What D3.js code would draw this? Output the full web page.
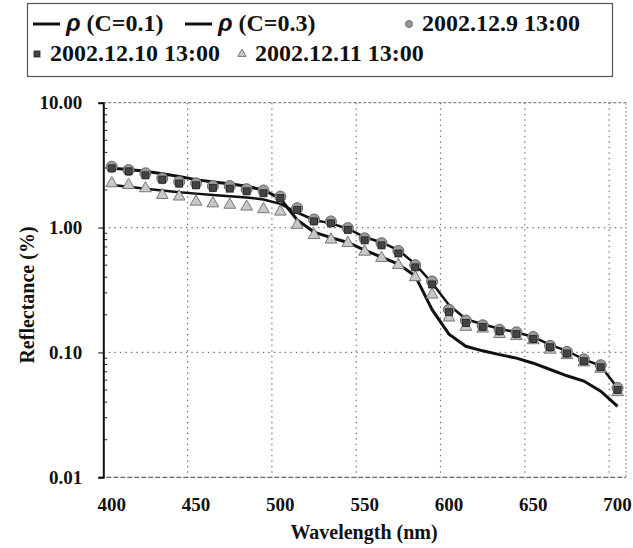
<!DOCTYPE html>
<html>
<head>
<meta charset="utf-8">
<script src="https://cdn.jsdelivr.net/npm/d3@7"></script>
</head>
<body style="margin:0">
<script>
// wavelength categories (nm)
const wavelengths = [400, 410, 420, 430, 440, 450, 460, 470, 480, 490, 500, 510, 520, 530, 540, 550,
                     560, 570, 580, 590, 600, 610, 620, 630, 640, 650, 660, 670, 680, 690, 700];
const xTickLabels = [400, 450, 500, 550, 600, 650, 700];
const yTickValues = [10, 1, 0.1, 0.01];

// model curves
const rhoC01 = [2.98, 2.92, 2.82, 2.70, 2.56, 2.42, 2.32, 2.24, 2.14, 2.00, 1.70, 1.15, 0.92, 0.83, 0.76, 0.66,
                0.58, 0.51, 0.41, 0.22, 0.140, 0.112, 0.103, 0.096, 0.090, 0.082, 0.073, 0.065, 0.059, 0.049, 0.037];
const rhoC03 = [2.19, 2.12, 2.05, 1.98, 1.92, 1.87, 1.82, 1.78, 1.74, 1.68, 1.55, 1.32, 1.15, 1.08, 0.98, 0.84,
                0.76, 0.66, 0.51, 0.36, 0.240, 0.185, 0.168, 0.155, 0.145, 0.133, 0.115, 0.103, 0.088, 0.078, 0.052];

// measurements
const obsDec9 = [3.07, 2.89, 2.72, 2.48, 2.33, 2.26, 2.15, 2.15, 2.03, 1.98, 1.77, 1.43, 1.16, 1.12, 0.99, 0.82,
                 0.75, 0.65, 0.50, 0.37, 0.220, 0.180, 0.165, 0.152, 0.145, 0.133, 0.113, 0.101, 0.088, 0.079, 0.052];
const obsDec10 = [2.98, 2.82, 2.62, 2.42, 2.25, 2.18, 2.08, 2.05, 1.95, 1.88, 1.72, 1.38, 1.12, 1.08, 0.96, 0.79,
                  0.72, 0.62, 0.48, 0.35, 0.210, 0.172, 0.160, 0.148, 0.140, 0.128, 0.110, 0.098, 0.085, 0.076, 0.050];
const obsDec11 = [2.26, 2.19, 2.06, 1.82, 1.77, 1.61, 1.56, 1.52, 1.47, 1.40, 1.34, 1.05, 0.87, 0.80, 0.75, 0.64,
                  0.57, 0.50, 0.40, 0.29, 0.190, 0.160, 0.155, 0.140, 0.135, 0.125, 0.105, 0.095, 0.083, 0.074, 0.048];

const width = 633, height = 548;
const plot = { left: 103.3, right: 626, top: 102.7, bottom: 477.3 };

const svg = d3.select("body").append("svg")
    .attr("width", width)
    .attr("height", height)
    .style("display", "block");

// all labels share the same bold serif look
function styleText(sel, size) {
    return sel.style("font-family", "\"Liberation Serif\"")
        .style("font-weight", "bold")
        .style("font-size", size + "px")
        .attr("fill", "#111");
}

const x = d3.scaleBand()
    .domain(wavelengths)
    .range([plot.left, plot.right]);
const cx = d => x(d) + x.bandwidth() / 2;

const y = d3.scaleLog()
    .domain([0.01, 10])
    .range([plot.bottom, plot.top]);

// Grid lines
const grid = svg.append("g")
    .attr("stroke", "#777")
    .attr("stroke-width", 1.2)
    .attr("stroke-dasharray", "1.5,4");

grid.selectAll(".vg")
    .data(xTickLabels.slice(1))
    .join("line")
    .attr("x1", d => x(d)).attr("x2", d => x(d))
    .attr("y1", plot.top).attr("y2", plot.bottom);

grid.selectAll(".hg")
    .data([1, 0.1])
    .join("line")
    .attr("x1", plot.left).attr("x2", plot.right)
    .attr("y1", d => y(d)).attr("y2", d => y(d));

// frame: top, right and bottom are faint, left axis is solid
svg.append("line")
    .attr("x1", plot.left).attr("x2", plot.right)
    .attr("y1", plot.top).attr("y2", plot.top)
    .attr("stroke", "#888").attr("stroke-width", 1.2)
    .attr("stroke-dasharray", "3,2");
svg.append("line")
    .attr("x1", plot.right).attr("x2", plot.right)
    .attr("y1", plot.top).attr("y2", plot.bottom)
    .attr("stroke", "#999").attr("stroke-width", 1.2)
    .attr("stroke-dasharray", "2,2");
svg.append("line")
    .attr("x1", plot.left - 4).attr("x2", plot.right)
    .attr("y1", plot.bottom).attr("y2", plot.bottom)
    .attr("stroke", "#666").attr("stroke-width", 1.3)
    .attr("stroke-dasharray", "5,2");

// Y axis with log minor ticks
const yAxis = svg.append("g")
    .attr("transform", `translate(${plot.left},0)`)
    .call(d3.axisLeft(y).tickValues(yTickValues).tickSize(5).tickFormat(d3.format(".2f")))
    .call(g => g.select(".domain").attr("stroke", "#111").attr("stroke-width", 2));
styleText(yAxis.selectAll("text").attr("x", -21), 19);

const minorTicks = y.ticks().filter(d => !yTickValues.includes(d));
svg.append("g")
    .selectAll("line")
    .data(minorTicks)
    .join("line")
    .attr("x1", plot.left).attr("x2", plot.left + 4)
    .attr("y1", d => y(d)).attr("y2", d => y(d))
    .attr("stroke", "#222").attr("stroke-width", 1);

// X labels sit in the middle of their category
styleText(svg.append("g")
    .selectAll("text")
    .data(xTickLabels)
    .join("text")
    .attr("x", d => cx(d))
    .attr("y", 511)
    .attr("text-anchor", "middle")
    .text(d => d), 19);

// Axis labels
styleText(svg.append("text")
    .attr("x", 364)
    .attr("y", 539)
    .attr("text-anchor", "middle")
    .text("Wavelength (nm)"), 20);

styleText(svg.append("text")
    .attr("transform", "rotate(-90)")
    .attr("x", -295)
    .attr("y", 34)
    .attr("text-anchor", "middle")
    .text("Reflectance (%)"), 20);

// Model lines
const line = d3.line()
    .x((d, i) => cx(wavelengths[i]))
    .y(d => y(d));

svg.append("path")
    .datum(rhoC03)
    .attr("fill", "none")
    .attr("stroke", "#111")
    .attr("stroke-width", 2.5)
    .attr("d", line);

svg.append("path")
    .datum(rhoC01)
    .attr("fill", "none")
    .attr("stroke", "#111")
    .attr("stroke-width", 3)
    .attr("d", line);

// Markers
const tri = d3.symbol().type(d3.symbolTriangle).size(60);

function drawTriangles(g, values) {
    g.selectAll("path")
        .data(values)
        .join("path")
        .attr("transform", (d, i) => `translate(${cx(wavelengths[i])},${y(d)})`)
        .attr("d", tri)
        .attr("fill", "#c8c8c8")
        .attr("stroke", "#777")
        .attr("stroke-width", 1);
}
function drawSpheres(g, values) {
    g.selectAll("circle")
        .data(values)
        .join("circle")
        .attr("cx", (d, i) => cx(wavelengths[i]))
        .attr("cy", d => y(d))
        .attr("r", 5.5)
        .attr("fill", "#9a9a9a")
        .attr("stroke", "#666")
        .attr("stroke-width", 1);
}
function drawSquares(g, values) {
    g.selectAll("rect")
        .data(values)
        .join("rect")
        .attr("x", (d, i) => cx(wavelengths[i]) - 3.5)
        .attr("y", d => y(d) - 3.5)
        .attr("width", 7)
        .attr("height", 7)
        .attr("fill", "#444")
        .attr("stroke", "#222")
        .attr("stroke-width", 0.8);
}

drawTriangles(svg.append("g"), obsDec11);
drawSpheres(svg.append("g"), obsDec9);
drawSquares(svg.append("g"), obsDec10);

// Legend
const legend = svg.append("g");
legend.append("rect")
    .attr("x", 27.5).attr("y", 3.5)
    .attr("width", 585).attr("height", 73)
    .attr("fill", "#fff")
    .attr("stroke", "#555")
    .attr("stroke-width", 1.2);

function legendText(xPos, yPos, parts) {
    const t = styleText(legend.append("text")
        .attr("x", xPos).attr("y", yPos), 24);
    parts.forEach(p => {
        const s = t.append("tspan").text(p.text);
        if (p.greek) {
            s.style("font-family", "\"Liberation Sans\"").style("font-style", "italic");
        }
    });
}

const legendRow1 = 31, legendRow2 = 61;

legend.append("line")
    .attr("x1", 33).attr("x2", 60)
    .attr("y1", legendRow1 - 7).attr("y2", legendRow1 - 7)
    .attr("stroke", "#111").attr("stroke-width", 3);
legendText(66, legendRow1, [{ text: "ρ", greek: true }, { text: " (C=0.1)" }]);

legend.append("line")
    .attr("x1", 185).attr("x2", 212)
    .attr("y1", legendRow1 - 7).attr("y2", legendRow1 - 7)
    .attr("stroke", "#111").attr("stroke-width", 3);
legendText(218, legendRow1, [{ text: "ρ", greek: true }, { text: " (C=0.3)" }]);

legend.append("circle")
    .attr("cx", 409).attr("cy", legendRow1 - 7).attr("r", 3.5)
    .attr("fill", "#9a9a9a").attr("stroke", "#666");
legendText(422, legendRow1, [{ text: "2002.12.9 13:00" }]);

legend.append("rect")
    .attr("x", 34).attr("y", legendRow2 - 10).attr("width", 6).attr("height", 6)
    .attr("fill", "#444").attr("stroke", "#222").attr("stroke-width", 0.8);
legendText(50, legendRow2, [{ text: "2002.12.10 13:00" }]);

legend.append("path")
    .attr("transform", `translate(242,${legendRow2 - 7})`)
    .attr("d", d3.symbol().type(d3.symbolTriangle).size(30))
    .attr("fill", "#c8c8c8").attr("stroke", "#777");
legendText(255, legendRow2, [{ text: "2002.12.11 13:00" }]);
</script>
</body>
</html>
